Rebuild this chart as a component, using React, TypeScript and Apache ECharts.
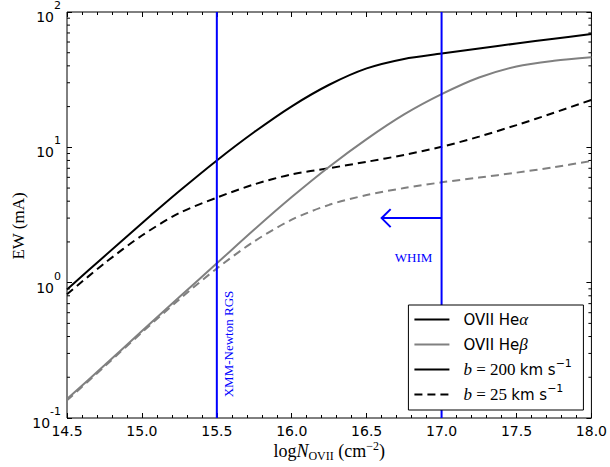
import React, { useEffect, useRef } from "react";
import * as echarts from "echarts";

// Column density grid (log N_OVII, cm^-2)
const logN = [14.5, 14.75, 15.0, 15.25, 15.5, 15.75, 16.0, 16.25, 16.5, 16.75, 17.0, 17.25, 17.5, 17.75, 18.0];

// Equivalent widths (mA) from the curve of growth
const heAlphaB200 = [0.89, 1.57, 2.75, 4.75, 8.0, 12.97, 20.1, 29.0, 38.3, 45.0, 49.3, 53.8, 58.5, 63.5, 68.8];
const heAlphaB25 = [0.82, 1.39, 2.23, 3.27, 4.25, 5.33, 6.31, 7.01, 7.82, 8.79, 10.09, 12.0, 14.6, 18.0, 22.4];
const heBetaB200 = [0.138, 0.245, 0.439, 0.783, 1.39, 2.47, 4.29, 7.19, 11.5, 17.5, 24.7, 32.8, 39.6, 43.6, 46.3];
const heBetaB25 = [0.135, 0.24, 0.429, 0.753, 1.274, 2.02, 2.92, 3.76, 4.44, 5.0, 5.51, 5.98, 6.5, 7.13, 7.93];

// Axis ranges
const xMin = 14.5;
const xMax = 18.0;
const xStep = 0.5;
const yMin = 0.1;
const yMax = 100;

// Reference lines
const rgsLimit = 15.5;
const whimLimit = 17.0;
const whimArrowTip = 16.6;
const whimArrowLevel = 3.0;

const BLUE = "#0000ff";
const GRAY = "#808080";
const SANS = "DejaVu Sans";
const SERIF = "Liberation Serif";

const pairs = (ys: number[]) => logN.map((x, i) => [x, ys[i]]);

export default function App() {
  const ref = useRef<HTMLDivElement>(null);

  useEffect(() => {
    if (!ref.current) return;
    const chart = echarts.init(ref.current, null, { renderer: "svg" });

    const curve = (name: string, ys: number[], color: string, dashed: boolean) => ({
      name,
      type: "line",
      data: pairs(ys),
      smooth: 0.3,
      symbol: "none",
      showSymbol: false,
      lineStyle: { color, width: 2, type: dashed ? [8, 5] : "solid" },
      z: 3,
    });

    const vline = (x: number) => ({
      type: "line",
      data: [
        [x, yMin],
        [x, yMax],
      ],
      symbol: "none",
      lineStyle: { color: BLUE, width: 2 },
      z: 4,
    });

    const tickCommon = {
      axisLine: { show: false },
      splitLine: { show: false },
    };

    chart.setOption({
      animation: false,
      backgroundColor: "#fff",
      grid: {
        left: 67,
        right: 15,
        top: 11,
        bottom: 49,
        show: true,
        borderColor: "#000",
        borderWidth: 1,
        backgroundColor: "transparent",
      },
      xAxis: [
        {
          type: "value",
          min: xMin,
          max: xMax,
          interval: xStep,
          position: "bottom",
          ...tickCommon,
          axisTick: { show: true, inside: true, length: 5, lineStyle: { color: "#000", width: 1 } },
          minorTick: { show: true, splitNumber: 5, length: 3, lineStyle: { color: "#000", width: 1 } },
          axisLabel: {
            show: true,
            margin: 6,
            color: "#000",
            fontFamily: SANS,
            fontSize: 14,
            formatter: (v: number) => v.toFixed(1),
          },
        },
        {
          type: "value",
          min: xMin,
          max: xMax,
          interval: xStep,
          position: "top",
          ...tickCommon,
          axisTick: { show: true, inside: true, length: 5, lineStyle: { color: "#000", width: 1 } },
          minorTick: { show: true, splitNumber: 5, length: 3, lineStyle: { color: "#000", width: 1 } },
          axisLabel: { show: false },
        },
      ],
      yAxis: [
        {
          type: "log",
          logBase: 10,
          min: yMin,
          max: yMax,
          position: "left",
          ...tickCommon,
          axisTick: { show: true, inside: true, length: 5, lineStyle: { color: "#000", width: 1 } },
          axisLabel: {
            show: true,
            margin: 6,
            color: "#000",
            formatter: (v: number) => {
              const e = Math.round(Math.log10(v));
              return `{m|10}{e|${e < 0 ? "-" + -e : e}}`;
            },
            rich: {
              m: { fontFamily: SANS, fontSize: 14, color: "#000", lineHeight: 24, verticalAlign: "bottom" },
              e: { fontFamily: SANS, fontSize: 11, color: "#000", lineHeight: 12, verticalAlign: "top" },
            },
          },
        },
        {
          type: "log",
          logBase: 10,
          min: yMin,
          max: yMax,
          position: "right",
          ...tickCommon,
          axisTick: { show: true, inside: true, length: 5, lineStyle: { color: "#000", width: 1 } },
          axisLabel: { show: false },
        },
      ],
      series: [
        curve("OVII Heα b=200", heAlphaB200, "#000", false),
        curve("OVII Heα b=25", heAlphaB25, "#000", true),
        curve("OVII Heβ b=200", heBetaB200, GRAY, false),
        curve("OVII Heβ b=25", heBetaB25, GRAY, true),
        vline(rgsLimit),
        vline(whimLimit),
        {
          type: "line",
          data: [
            [whimLimit, whimArrowLevel],
            [whimArrowTip, whimArrowLevel],
          ],
          symbol: "none",
          lineStyle: { color: BLUE, width: 2 },
          z: 4,
        },
      ],
    });

    const toPx = (x: number, y: number) =>
      chart.convertToPixel({ xAxisIndex: 0, yAxisIndex: 0 }, [x, y]) as number[];

    const [left, bottom] = toPx(xMin, yMin);
    const [right] = toPx(xMax, yMax);

    const graphics: any[] = [];

    // Log-scale minor ticks on the left and right axes
    for (let d = -1; d < 2; d++) {
      for (let k = 2; k <= 9; k++) {
        const [, py] = toPx(xMin, k * Math.pow(10, d));
        graphics.push({
          type: "line",
          shape: { x1: left, y1: py, x2: left + 3, y2: py },
          style: { stroke: "#000", lineWidth: 1 },
          z: 10,
        });
        graphics.push({
          type: "line",
          shape: { x1: right - 3, y1: py, x2: right, y2: py },
          style: { stroke: "#000", lineWidth: 1 },
          z: 10,
        });
      }
    }

    // WHIM arrow head
    const [ax, ay] = toPx(whimArrowTip, whimArrowLevel);
    graphics.push({
      type: "polyline",
      shape: {
        points: [
          [ax + 9, ay - 9],
          [ax, ay],
          [ax + 9, ay + 9],
        ],
      },
      style: { stroke: BLUE, lineWidth: 2, fill: "none" },
      z: 10,
    });

    const [wx] = toPx(whimLimit, whimArrowLevel);
    graphics.push({
      type: "text",
      x: wx - 28,
      y: ay + 39,
      style: {
        text: "WHIM",
        fontFamily: SERIF,
        fontSize: 13,
        fill: BLUE,
        align: "center",
        verticalAlign: "middle",
      },
      z: 10,
    });

    const [rx] = toPx(rgsLimit, yMin);
    graphics.push({
      type: "text",
      x: rx + 12,
      y: bottom - 74,
      rotation: Math.PI / 2,
      style: {
        text: "XMM-Newton RGS",
        fontFamily: SERIF,
        fontSize: 13,
        fill: BLUE,
        align: "center",
        verticalAlign: "middle",
      },
      z: 10,
    });

    // Axis titles
    graphics.push({
      type: "text",
      x: 18,
      y: 226,
      rotation: Math.PI / 2,
      style: {
        text: "EW (mA)",
        fontFamily: SERIF,
        fontSize: 17,
        fill: "#000",
        align: "center",
        verticalAlign: "middle",
      },
    });
    graphics.push({
      type: "text",
      x: (left + right) / 2,
      y: 451,
      style: {
        text: "{r|log}{i|N}{sub|OVII}{r| (cm}{sup|−2}{r|)}",
        align: "center",
        verticalAlign: "middle",
        rich: {
          r: { fontFamily: SERIF, fontSize: 18, fill: "#000", lineHeight: 22, verticalAlign: "middle" },
          i: { fontFamily: SERIF, fontSize: 18, fontStyle: "italic", fill: "#000", lineHeight: 22, verticalAlign: "middle" },
          sub: { fontFamily: SERIF, fontSize: 12, fill: "#000", lineHeight: 10, verticalAlign: "bottom" },
          sup: { fontFamily: SERIF, fontSize: 12, fill: "#000", lineHeight: 12, verticalAlign: "top" },
        },
      },
    });

    // Legend box
    const lw = 175;
    const lh = 105;
    const lx = right - 8 - lw;
    const ly = bottom - 8 - lh;
    graphics.push({
      type: "rect",
      shape: { x: lx, y: ly, width: lw, height: lh },
      style: { fill: "#fff", stroke: "#000", lineWidth: 1 },
      z: 20,
    });
    const rows = [
      { color: "#000", dash: false, text: "{s|OVII He}{g|α}" },
      { color: GRAY, dash: false, text: "{s|OVII He}{g|β}" },
      { color: "#000", dash: false, text: "{i|b}{m| = 200 }{s|km s}{e|−1}" },
      { color: "#000", dash: true, text: "{i|b}{m| = 25 }{s|km s}{e|−1}" },
    ];
    const legendRich = {
      s: { fontFamily: SANS, fontSize: 15, fill: "#000", lineHeight: 24, verticalAlign: "middle" },
      g: { fontFamily: SERIF, fontSize: 17, fontStyle: "italic", fill: "#000", lineHeight: 24, verticalAlign: "middle" },
      i: { fontFamily: SERIF, fontSize: 17, fontStyle: "italic", fill: "#000", lineHeight: 24, verticalAlign: "middle" },
      m: { fontFamily: SERIF, fontSize: 17, fill: "#000", lineHeight: 24, verticalAlign: "middle" },
      e: { fontFamily: SANS, fontSize: 11, fill: "#000", lineHeight: 14, verticalAlign: "top" },
    };
    rows.forEach((row, i) => {
      const cy = ly + 14.5 + i * 25;
      graphics.push({
        type: "line",
        shape: { x1: lx + 6, y1: cy, x2: lx + 41, y2: cy },
        style: { stroke: row.color, lineWidth: 2, lineDash: row.dash ? [8, 5] : null },
        z: 21,
      });
      graphics.push({
        type: "text",
        x: lx + 55,
        y: cy,
        style: { text: row.text, align: "left", verticalAlign: "middle", rich: legendRich },
        z: 21,
      });
    });

    chart.setOption({ graphic: graphics });

    return () => chart.dispose();
  }, []);

  return (
    <div
      ref={ref}
      style={{ position: "absolute", left: 0, top: 0, width: 610, height: 467, background: "#fff" }}
    />
  );
}
